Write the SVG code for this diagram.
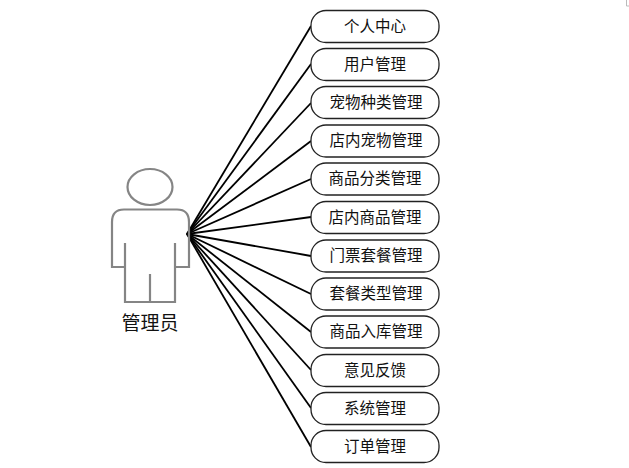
<svg xmlns="http://www.w3.org/2000/svg" width="629" height="468" viewBox="0 0 629 468">
<style>
.n{fill:#fff;stroke:#222;stroke-width:1.3}
.t{font-family:"Noto Sans CJK SC","Liberation Sans",sans-serif;font-size:15.500px;fill:#111;text-anchor:middle}
.c line{stroke:#000;stroke-width:1.800}
.a{fill:none;stroke:#858585;stroke-width:2.200}
</style>
<rect width="629" height="468" fill="#fff"/>
<path d="M626.500 0V6H629" fill="none" stroke="#bbb" stroke-width="1"/>
<g id="connectors" class="c">
<line x1="187" y1="234" x2="311" y2="26"/>
<line x1="187" y1="234" x2="311" y2="64"/>
<line x1="187" y1="234" x2="311" y2="103"/>
<line x1="187" y1="234" x2="311" y2="141"/>
<line x1="187" y1="234" x2="311" y2="179"/>
<line x1="187" y1="234" x2="311" y2="217"/>
<line x1="187" y1="234" x2="311" y2="256"/>
<line x1="187" y1="234" x2="311" y2="294"/>
<line x1="187" y1="234" x2="311" y2="332"/>
<line x1="187" y1="234" x2="311" y2="370"/>
<line x1="187" y1="234" x2="311" y2="408"/>
<line x1="187" y1="234" x2="311" y2="447"/>
</g>
<g id="actor">
<ellipse class="a" cx="150" cy="187" rx="22.500" ry="18"/>
<path class="a" d="M125 243V302H175V243M125 267H112V222Q112 209.500 124 209.500H177Q189 209.500 189 222V267H175M150 274V302"/>
<text x="150" y="330" font-family="'Noto Sans CJK SC',sans-serif" font-size="19" fill="#111" text-anchor="middle">管理员</text>
</g>
<g id="n1"><rect class="n" x="311" y="10.500" width="128" height="32" rx="15"/><text class="t" x="375" y="31.500">个人中心</text></g>
<g id="n2"><rect class="n" x="311" y="48.500" width="128" height="32" rx="15"/><text class="t" x="375" y="69.500">用户管理</text></g>
<g id="n3"><rect class="n" x="311" y="86.500" width="128" height="32" rx="15"/><text class="t" x="376" y="107.500">宠物种类管理</text></g>
<g id="n4"><rect class="n" x="311" y="125" width="128" height="32" rx="15"/><text class="t" x="376" y="146">店内宠物管理</text></g>
<g id="n5"><rect class="n" x="311" y="163" width="128" height="32" rx="15"/><text class="t" x="375" y="184">商品分类管理</text></g>
<g id="n6"><rect class="n" x="311" y="201.500" width="128" height="32" rx="15"/><text class="t" x="375" y="222.500">店内商品管理</text></g>
<g id="n7"><rect class="n" x="311" y="240" width="128" height="32" rx="15"/><text class="t" x="376" y="261">门票套餐管理</text></g>
<g id="n8"><rect class="n" x="311" y="278" width="128" height="32" rx="15"/><text class="t" x="376" y="299">套餐类型管理</text></g>
<g id="n9"><rect class="n" x="311" y="316" width="128" height="32" rx="15"/><text class="t" x="376" y="337">商品入库管理</text></g>
<g id="n10"><rect class="n" x="311" y="354.500" width="128" height="32" rx="15"/><text class="t" x="375" y="375.500">意见反馈</text></g>
<g id="n11"><rect class="n" x="311" y="392.500" width="128" height="32" rx="15"/><text class="t" x="375" y="413.500">系统管理</text></g>
<g id="n12"><rect class="n" x="311" y="430.500" width="128" height="32" rx="15"/><text class="t" x="375" y="451.500">订单管理</text></g>
</svg>
